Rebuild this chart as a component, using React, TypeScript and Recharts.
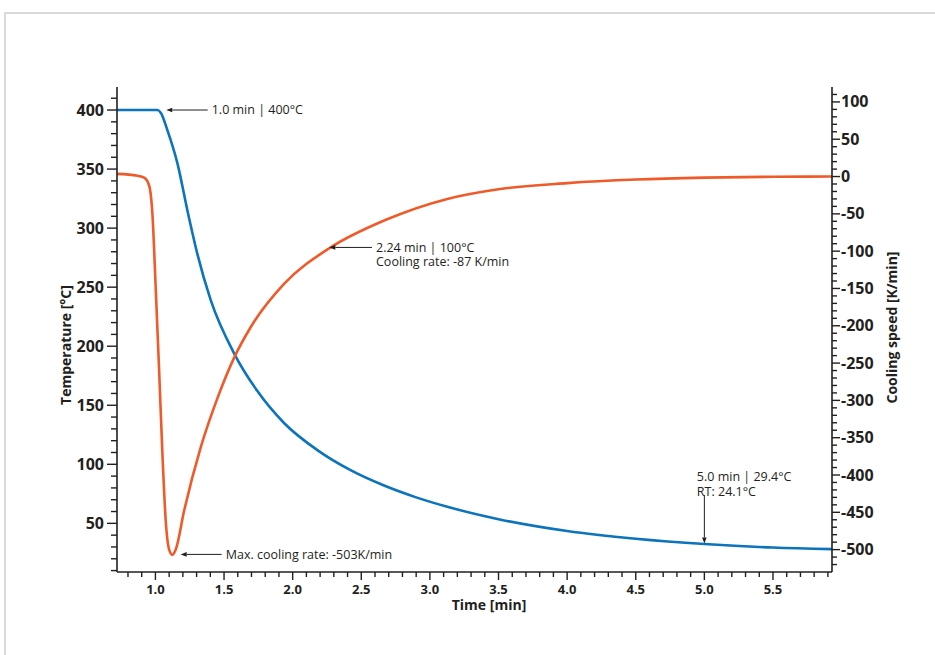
import { ComposedChart, Line, XAxis, YAxis, ReferenceLine } from 'recharts';

const FONT = "'Open Sans', 'Noto Sans', sans-serif";
const INK = '#231f20';
const BLUE = '#0b74bd';
const ORANGE = '#f05a28';

// temperature curve (min / °C)
const tempTime = [0.72, 1.015, 1.04, 1.087, 1.16, 1.233, 1.306, 1.403, 1.573, 1.743, 1.937, 2.18, 2.422, 2.666, 2.9, 3.127, 3.5, 4.0, 4.5, 5.0, 5.5, 5.93];
const tempValues = [400, 400, 397.5, 383, 355, 315, 278, 239, 194, 162, 135, 112, 95, 82, 72, 64, 53.5, 43.5, 37, 32.5, 29.5, 28.2];

// cooling speed curve (min / K/min)
const rateTime = [0.72, 0.87, 0.918, 0.954, 0.978, 1.002, 1.027, 1.051, 1.075, 1.1, 1.124, 1.148, 1.209, 1.33, 1.452, 1.573, 1.694, 1.937, 2.277, 2.666, 3.127, 3.5, 4.0, 4.5, 5.0, 5.5, 5.93];
const rateValues = [3.6, 1, -1.5, -12, -50, -149, -260, -372, -461, -500, -507, -500, -448, -363, -297, -243, -202, -144, -95, -59, -30, -17, -8.8, -4, -1.5, -0.3, 0];

const xMajorTicks = [1.0, 1.5, 2.0, 2.5, 3.0, 3.5, 4.0, 4.5, 5.0, 5.5];
const tempMajorTicks = [50, 100, 150, 200, 250, 300, 350, 400];
const rateMajorTicks = [100, 50, 0, -50, -100, -150, -200, -250, -300, -350, -400, -450, -500];

const notes = [
  { axis: 'temp', from: { x: 1.381, y: 400 }, to: { x: 1.079, y: 400 }, lines: ['1.0 min | 400°C'], place: 'right' },
  { axis: 'rate', from: { x: 2.578, y: -95 }, to: { x: 2.267, y: -95 }, lines: ['2.24 min | 100°C', 'Cooling rate: -87 K/min'], place: 'right' },
  { axis: 'rate', from: { x: 1.483, y: -506.4 }, to: { x: 1.184, y: -506.4 }, lines: ['Max. cooling rate: -503K/min'], place: 'right' },
  { axis: 'temp', from: { x: 5.0, y: 74 }, to: { x: 5.0, y: 33 }, lines: ['5.0 min | 29.4°C', 'RT: 24.1°C'], place: 'above' },
];

function steps(from: number, to: number, step: number) {
  const out: number[] = [];
  const n = Math.round((to - from) / step);
  for (let i = 0; i <= n; i++) out.push(Math.round((from + i * step) * 100) / 100);
  return out;
}

const xTicks = steps(0.8, 5.9, 0.1);
const tempTicks = steps(10, 410, 10);
const rateTicks = steps(-520, 110, 10);

const tempData = tempTime.map((t, i) => ({ t, v: tempValues[i] }));
const rateData = rateTime.map((t, i) => ({ t, v: rateValues[i] }));

const isIn = (list: number[], v: number) => list.some((m) => Math.abs(m - v) < 1e-6);

function AxisTick(props: any) {
  const { x, y, payload, side } = props;
  const v = payload.value;
  const txt = { fill: INK, fontFamily: FONT, fontWeight: 700 } as const;
  if (side === 'left') {
    const major = isIn(tempMajorTicks, v);
    return (
      <g>
        <line x1={x - (major ? 10 : 6)} y1={y} x2={x} y2={y} stroke={INK} strokeWidth={1.4} />
        {major && (
          <text x={x - 13} y={y + 5.7} textAnchor="end" fontSize={16} {...txt}>
            {v}
          </text>
        )}
      </g>
    );
  }
  if (side === 'right') {
    const major = isIn(rateMajorTicks, v);
    return (
      <g>
        <line x1={x} y1={y} x2={x + (major ? 8 : 5)} y2={y} stroke={INK} strokeWidth={1.4} />
        {major && (
          <text x={x + 9} y={y + 5.5} textAnchor="start" fontSize={16} {...txt}>
            {v}
          </text>
        )}
      </g>
    );
  }
  const major = isIn(xMajorTicks, v);
  return (
    <g>
      <line x1={x} y1={y} x2={x} y2={y + (major ? 8 : 5)} stroke={INK} strokeWidth={1.4} />
      {major && (
        <text x={x} y={y + 21.5} textAnchor="middle" fontSize={13} {...txt}>
          {v.toFixed(1)}
        </text>
      )}
    </g>
  );
}

function Callout(props: any) {
  const { x1, y1, x2, y2, note } = props;
  const dx = x2 - x1;
  const dy = y2 - y1;
  const len = Math.hypot(dx, dy) || 1;
  const ux = dx / len;
  const uy = dy / len;
  const hl = 6;
  const hw = 2.3;
  const bx = x2 - ux * hl;
  const by = y2 - uy * hl;
  const head = `${x2},${y2} ${bx - uy * hw},${by + ux * hw} ${bx + uy * hw},${by - ux * hw}`;
  const gap = 14.6;
  const tx = note.place === 'right' ? x1 + 4 : x1 - 7.5;
  const ty = note.place === 'right' ? y1 : y1 - 3.5 - (note.lines.length - 1) * gap;
  return (
    <g>
      <line x1={x1} y1={y1} x2={bx} y2={by} stroke={INK} strokeWidth={1} />
      <polygon points={head} fill={INK} />
      {note.lines.map((s: string, i: number) => (
        <text key={i} x={tx} y={ty + i * gap + 4.4} fontFamily={FONT} fontSize={12.5} fill={INK}>
          {s}
        </text>
      ))}
    </g>
  );
}

function title(text: string, dx: number, dy: number, rotate: boolean) {
  return (p: any) => {
    const vb = p.viewBox || { x: 0, y: 0, width: 0, height: 0 };
    const cx = vb.x + (rotate ? 0 : vb.width / 2) + dx;
    const cy = vb.y + (rotate ? vb.height / 2 : 0) + dy;
    return (
      <text
        x={cx}
        y={cy}
        textAnchor="middle"
        dominantBaseline="central"
        transform={rotate ? `rotate(-90, ${cx}, ${cy})` : undefined}
        fontFamily={FONT}
        fontWeight={700}
        fontSize={14}
        fill={INK}
      >
        {text}
      </text>
    );
  };
}

export default function App() {
  return (
    <div style={{ position: 'absolute', left: 0, top: 0, width: 935, height: 655, background: '#fff', overflow: 'hidden' }}>
      <div
        style={{
          position: 'absolute',
          left: 4,
          top: 12,
          width: 980,
          height: 700,
          border: '2px solid #d9d9d9',
        }}
      />
      <div style={{ position: 'absolute', left: 0, top: 0 }}>
        <ComposedChart width={935} height={655} margin={{ top: 87, right: 0, bottom: 0, left: 0 }}>
          <XAxis
            xAxisId="main"
            type="number"
            dataKey="t"
            domain={[0.72, 5.93]}
            allowDataOverflow
            ticks={xTicks}
            interval={0}
            height={83}
            tickSize={0}
            tickMargin={0}
            tickLine={false}
            axisLine={{ stroke: INK, strokeWidth: 1.6 }}
            tick={(p: any) => <AxisTick {...p} side="bottom" />}
            label={title('Time [min]', 14.5, 32, false)}
          />
          <XAxis
            xAxisId="frame"
            orientation="top"
            type="number"
            domain={[0.72, 5.93]}
            allowDataOverflow
            height={0}
            tick={false}
            tickLine={false}
            axisLine={{ stroke: INK, strokeWidth: 1.6 }}
          />
          <YAxis
            yAxisId="temp"
            orientation="left"
            type="number"
            domain={[8.8, 419.5]}
            allowDataOverflow
            ticks={tempTicks}
            interval={0}
            width={117}
            tickSize={0}
            tickMargin={0}
            tickLine={false}
            axisLine={{ stroke: INK, strokeWidth: 1.6 }}
            tick={(p: any) => <AxisTick {...p} side="left" />}
            label={title('Temperature [°C]', 65, 15.5, true)}
          />
          <YAxis
            yAxisId="rate"
            orientation="right"
            type="number"
            domain={[-530, 120]}
            allowDataOverflow
            ticks={rateTicks}
            interval={0}
            width={103}
            tickSize={0}
            tickMargin={0}
            tickLine={false}
            axisLine={{ stroke: INK, strokeWidth: 1.6 }}
            tick={(p: any) => <AxisTick {...p} side="right" />}
            label={title('Cooling speed [K/min]', 59, -2, true)}
          />
          <Line
            xAxisId="main"
            yAxisId="temp"
            data={tempData}
            dataKey="v"
            type="monotone"
            stroke={BLUE}
            strokeWidth={2.6}
            dot={false}
            activeDot={false}
            isAnimationActive={false}
          />
          <Line
            xAxisId="main"
            yAxisId="rate"
            data={rateData}
            dataKey="v"
            type="monotone"
            stroke={ORANGE}
            strokeWidth={2.6}
            dot={false}
            activeDot={false}
            isAnimationActive={false}
          />
          {notes.map((n, i) => (
            <ReferenceLine
              key={i}
              xAxisId="main"
              yAxisId={n.axis}
              segment={[n.from, n.to]}
              shape={(p: any) => <Callout {...p} note={n} />}
            />
          ))}
        </ComposedChart>
      </div>
    </div>
  );
}
